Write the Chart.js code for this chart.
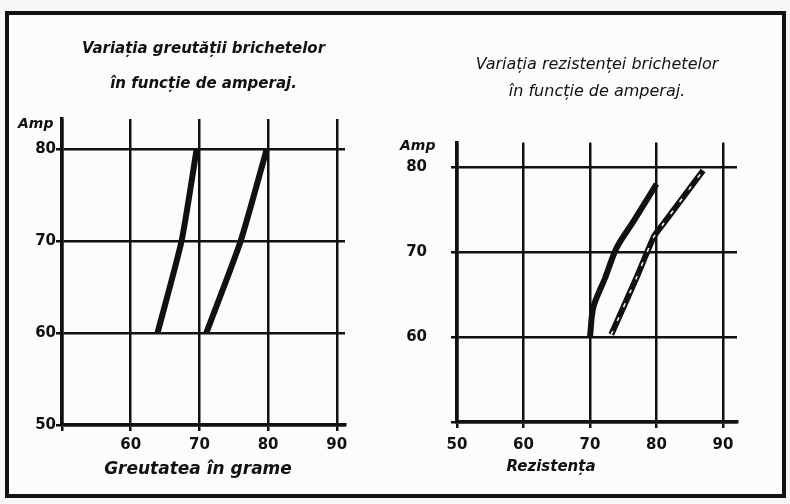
<!DOCTYPE html>
<html>
<head>
<meta charset="utf-8">
<script src="https://cdn.jsdelivr.net/npm/chart.js@4.4.1/dist/chart.umd.min.js"></script>
<style>
  html,body{margin:0;padding:0;background:#f6f6f4;}
  #wrap{position:relative;width:790px;height:504px;overflow:hidden;}
  #frame{position:absolute;left:5px;top:11px;width:773px;height:479px;border:4px solid #111;background:#fcfcfa;}
  canvas{position:absolute;top:0;}
  #c1{left:0;}
  #c2{left:395px;}
</style>
</head>
<body>
<div id="wrap">
  <div id="frame"></div>
  <canvas id="c1" width="395" height="504"></canvas>
  <canvas id="c2" width="395" height="504"></canvas>
</div>
<script>
// amperaj (y) vs greutate in grame (x), left sheet
const amperajGreutate = [60, 70, 80];
const greutate1 = [63.9, 67.4, 69.6];
const greutate2 = [71, 76, 79.8];

// amperaj (y) vs rezistenta (x), right sheet
const amperajRez1 = [60, 63.5, 67, 70.5, 73.7, 78];
const rezistenta1 = [70, 70.5, 72.3, 74, 76.6, 80];
const amperajRez2 = [60.3, 67, 71.8, 73.3, 79.6];
const rezistenta2 = [73.2, 77, 79.6, 81, 87];

const ink = '#111';
const paper = '#fcfcfa';
const tickFont = {family: 'DejaVu Sans', weight: 'bold', size: 15};

function puncte(xs, ys) {
    return xs.map((x, i) => ({x: x, y: ys[i]}));
}

const notesPlugin = {
    id: 'notes',
    afterDraw(chart, args, opts) {
        let ctx = chart.ctx;
        ctx.save();
        ctx.fillStyle = ink;
        ctx.textBaseline = 'middle';
        for (let i = 0; i < opts.items.length; i++) {
            let it = opts.items[i];
            ctx.font = it.font;
            ctx.textAlign = it.align || 'left';
            ctx.fillText(it.text, it.x, it.y);
        }
        ctx.restore();
    }
};

function axa(min, max, opts) {
    return {
        type: 'linear',
        min: min,
        max: max,
        ticks: {
            stepSize: 10,
            includeBounds: false,
            color: ink,
            font: tickFont,
            padding: opts.pad,
            callback: v => (opts.hide.includes(v) ? '' : String(v))
        },
        grid: {color: ink, lineWidth: 2.5, tickLength: 6, tickColor: ink},
        border: {color: ink, width: 3.5},
        afterFit: opts.fit
    };
}

new Chart(document.getElementById('c1'), {
    type: 'scatter',
    data: {
        datasets: [
            {data: puncte(greutate1, amperajGreutate), showLine: true, borderColor: ink, borderWidth: 6, pointRadius: 0, tension: 0.2},
            {data: puncte(greutate2, amperajGreutate), showLine: true, borderColor: ink, borderWidth: 6, pointRadius: 0, tension: 0.2}
        ]
    },
    options: {
        responsive: false,
        animation: false,
        layout: {padding: {left: 0, right: 50, top: 0, bottom: 0}},
        scales: {
            x: axa(50, 91.2, {pad: 5, hide: [50], fit: s => { s.height = 79; }}),
            y: axa(50, 83.3, {pad: 0, hide: [], fit: s => { s.width = 62; }})
        },
        plugins: {
            legend: {display: false},
            tooltip: {enabled: false},
            title: {
                display: true,
                fullSize: false,
                text: ['Variația greutății brichetelor', 'în funcție de amperaj.'],
                color: ink,
                font: {family: 'DejaVu Sans', weight: 'bold', style: 'italic', size: 15, lineHeight: 2.3},
                padding: {top: 32, bottom: 18}
            },
            notes: {items: [
                {text: 'Amp', x: 18, y: 124, font: 'bold italic 14px "DejaVu Sans"'},
                {text: 'Greutatea în grame', x: 198, y: 470, align: 'center', font: 'bold italic 17px "DejaVu Sans"'}
            ]}
        }
    },
    plugins: [notesPlugin]
});

new Chart(document.getElementById('c2'), {
    type: 'scatter',
    data: {
        datasets: [
            // the second curve is drawn hollow on the sheet: light dashes on top of the black stroke
            {data: puncte(rezistenta2, amperajRez2), showLine: true, borderColor: paper, borderWidth: 1.5, borderDash: [4, 11], pointRadius: 0, tension: 0.2},
            {data: puncte(rezistenta1, amperajRez1), showLine: true, borderColor: ink, borderWidth: 6, pointRadius: 0, tension: 0.3},
            {data: puncte(rezistenta2, amperajRez2), showLine: true, borderColor: ink, borderWidth: 6, pointRadius: 0, tension: 0.2}
        ]
    },
    options: {
        responsive: false,
        animation: false,
        layout: {padding: {left: 0, right: 53, top: 0, bottom: 0}},
        scales: {
            x: axa(50, 92.1, {pad: 8, hide: [], fit: s => { s.height = 82; }}),
            y: axa(50, 82.9, {pad: 24, hide: [50], fit: s => { s.width = 62; }})
        },
        plugins: {
            legend: {display: false},
            tooltip: {enabled: false},
            title: {
                display: true,
                fullSize: false,
                text: ['Variația rezistenței brichetelor', 'în funcție de amperaj.'],
                color: ink,
                font: {family: 'DejaVu Sans', weight: 'normal', style: 'italic', size: 16, lineHeight: 1.7},
                padding: {top: 51, bottom: 37}
            },
            notes: {items: [
                {text: 'Amp', x: 5, y: 146, font: 'bold italic 14px "DejaVu Sans"'},
                {text: 'Rezistența', x: 156, y: 467, align: 'center', font: 'bold italic 15px "DejaVu Sans"'}
            ]}
        }
    },
    plugins: [notesPlugin]
});
</script>
</body>
</html>
